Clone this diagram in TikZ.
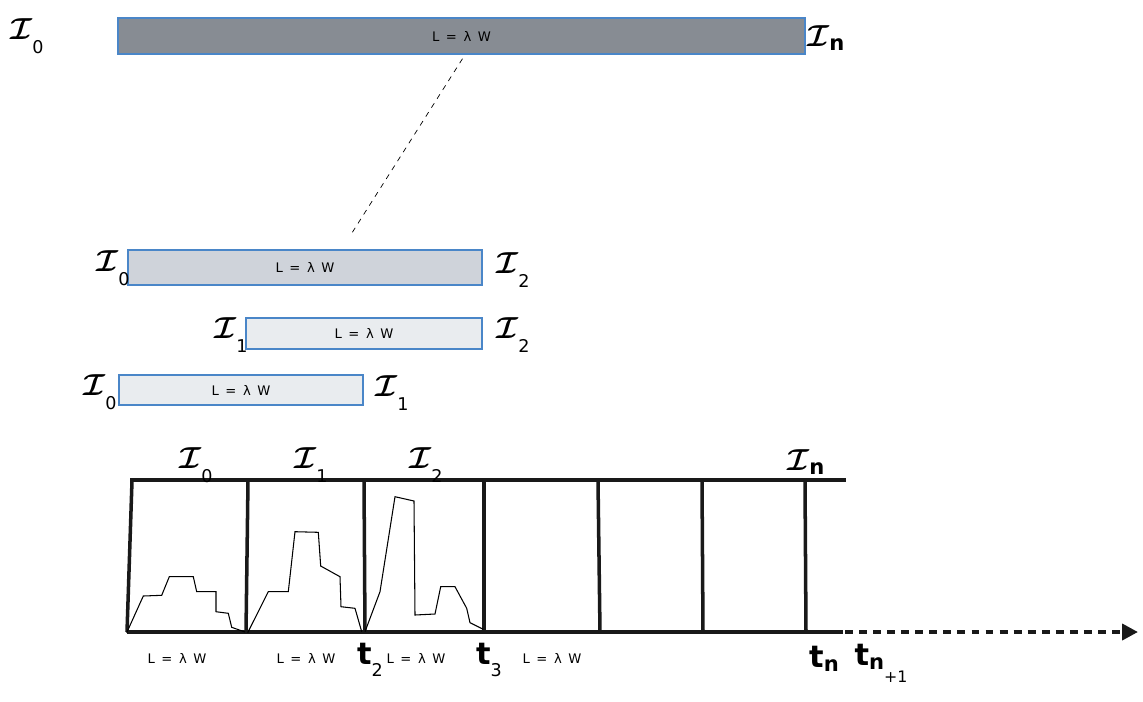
\documentclass[tikz,border=0pt]{standalone}
\usepackage{fontspec}
\setsansfont{DejaVu Sans}
\usepackage{amsmath,amssymb}
\usepackage{bm}
\usepackage{xcolor}
\usetikzlibrary{arrows.meta,positioning,calc}

\definecolor{bardark}{HTML}{878C93}
\definecolor{barmid}{HTML}{CFD3DA}
\definecolor{barlight}{HTML}{E9ECEF}
\definecolor{barline}{HTML}{4A86C8}

\newcommand{\Iname}[1]{$\bm{\mathcal{I}}$\raisebox{-1.1ex}{\sffamily\normalsize #1}}
\newcommand{\tname}[1]{{\sffamily\bfseries t}\raisebox{-0.9ex}{\sffamily\normalsize #1}}
\newcommand{\lawtext}{L\enspace=\enspace λ\enspace W}

\begin{document}
\begin{tikzpicture}[
  x=0.02cm, y=-0.02cm,
  font=\scriptsize,
  >=Latex,
  bar/.style={draw=barline, line width=0.8pt, inner sep=0pt, font=\fontsize{7.5}{8}\sffamily},
  lbl/.style={inner sep=0pt, font=\LARGE},
  tlbl/.style={inner sep=0pt, font=\LARGE},
  law/.style={inner sep=0pt, font=\fontsize{7.5}{8}\sffamily},
  strip/.style={line width=2pt, black!90},
  trace/.style={line width=0.6pt, black}
]
\useasboundingbox (0,0) rectangle (1143,701);

% sliding windows
\node[bar, fill=bardark, minimum width=13.74cm, minimum height=0.72cm] (bar1) at (461.5,36) {\lawtext};
\node[bar, fill=barmid, minimum width=7.08cm, minimum height=0.70cm] (bar2) at (305,267.5) {\lawtext};
\node[bar, fill=barlight, minimum width=4.72cm, minimum height=0.62cm] (bar3) at (364,333.5) {\raisebox{-0.5ex}{\lawtext}};
\node[bar, fill=barlight, minimum width=4.88cm, minimum height=0.60cm] (bar4) at (241,390) {\lawtext};

\node[lbl] (b1l) at (27,36) {\Iname{0}};
\node[lbl] (b1r) at (826,38) {$\bm{\mathcal{I}}$\raisebox{-0.3ex}{\sffamily\bfseries\large n}};
\node[lbl] (b2l) at (113,268) {\Iname{0}};
\node[lbl] (b2r) at (513,270) {\Iname{2}};
\node[lbl] (b3l) at (231,335) {\Iname{1}};
\node[lbl] (b3r) at (513,335) {\Iname{2}};
\node[lbl] (b4l) at (100,392) {\Iname{0}};
\node[lbl] (b4r) at (392,393) {\Iname{1}};

\coordinate (zoomend) at (350,236);
\draw[dashed, thin] ([xshift=0.02cm, yshift=-0.08cm]bar1.south) -- (zoomend);

% time axis with windows
\draw[strip] (130,480) -- (846,480);
\draw[strip] (127,632) -- (843,632);
\foreach \xa/\xb in {132/127, 248/246, 364/365, 484/484, 598/600, 702/703, 805/806}
  \draw[strip] (\xa,481) -- (\xb,632);
\coordinate (axisend) at (845,632);
\coordinate (axistip) at (1138,632);
\draw[line width=2.2pt, black!90, dash pattern=on 4.5pt off 3.5pt, -{Triangle[length=9pt, width=9pt]}] (axisend) -- (axistip);

% signal traces
\draw[trace] (126.7,632.7) -- (143.3,596) -- (161.7,595.3) -- (169.3,576.7) -- (193.3,576.7) -- (196.7,591.7) -- (216,591.7) -- (216,611.7) -- (228.3,613.3) -- (231.7,627.3) -- (245,632);
\draw[trace] (247.7,632.7) -- (268.3,591.7) -- (288.3,591.7) -- (295,531.7) -- (318.3,532.3) -- (320.7,566) -- (340,576.7) -- (341,606.7) -- (355,608.3) -- (361.7,631.7);
\draw[trace] (365,631.7) -- (380,591.7) -- (395,496.7) -- (414,501) -- (415,615) -- (435,614) -- (440.7,586.7) -- (455,586.7) -- (466.7,608.3) -- (470,622.7) -- (483.3,629.3);

% labels on the axis
\node[lbl] (w0) at (196,465) {\Iname{0}};
\node[lbl] (w1) at (311,465) {\Iname{1}};
\node[lbl] (w2) at (426,465) {\Iname{2}};
\node[lbl] (wn) at (806,462) {$\bm{\mathcal{I}}$\raisebox{-0.3ex}{\sffamily\bfseries\large n}};

\node[law] (law0) at (177,658) {\lawtext};
\node[law] (law1) at (306,658) {\lawtext};
\node[law] (law2) at (416,658) {\lawtext};
\node[law] (law3) at (552,658) {\lawtext};

\node[tlbl] (t2) at (370,660) {\tname{2}};
\node[tlbl] (t3) at (489,660) {\tname{3}};
\node[tlbl] (tn) at (824,659) {{\sffamily\bfseries t}\raisebox{-0.3ex}{\sffamily\bfseries\large n}};
\node[tlbl] (tn1) at (881,663) {{\sffamily\bfseries t}\raisebox{-0.3ex}{\sffamily\bfseries\large n}\raisebox{-1.3ex}{\sffamily\small +1}};
\end{tikzpicture}
\end{document}
